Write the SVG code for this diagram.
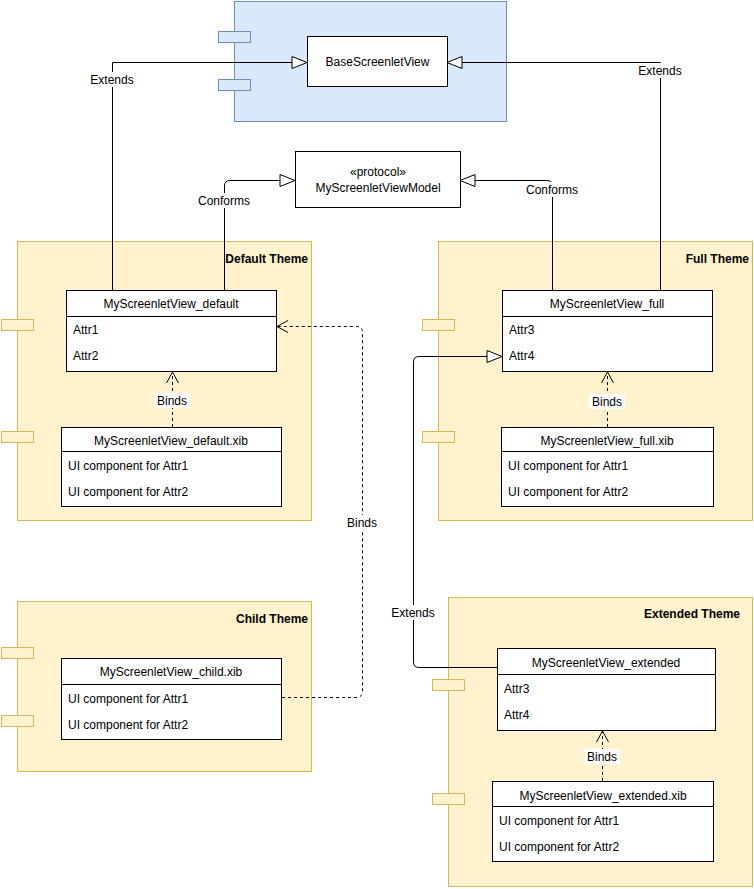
<svg xmlns="http://www.w3.org/2000/svg" width="754" height="889" viewBox="0 0 754 889">
<style>
text{font-family:"Liberation Sans",Arial,sans-serif;font-size:12px;fill:#000}
.c{text-anchor:middle}
.t{font-weight:bold;text-anchor:end}
.y{fill:#fff2cc;stroke:#d6b656}
.b{fill:#dae8fc;stroke:#6c8ebf}
.w{fill:#fff;stroke:#000}
.l{fill:none;stroke:#000}
.d{fill:none;stroke:#000;stroke-dasharray:3 3}
.lb{fill:#fff}
</style>
<defs>
<marker id="tri" markerWidth="18" markerHeight="14" refX="16" refY="7" orient="auto" markerUnits="userSpaceOnUse"><path d="M1,1 L16,7 L1,13 Z" fill="#fff" stroke="#000"/></marker>
<marker id="op" markerWidth="14" markerHeight="14" refX="12" refY="7" orient="auto" markerUnits="userSpaceOnUse"><path d="M1,1 L12,7 L1,13" fill="none" stroke="#000"/></marker>
</defs>
<g id="base"><rect class="b" x="234.5" y="1.5" width="272" height="120"/><rect class="b" x="218.5" y="31.5" width="32" height="11"/><rect class="b" x="218.5" y="79.5" width="32" height="11"/>
<rect class="w" x="307.5" y="36.5" width="140" height="50"/><text class="c" x="377.5" y="66">BaseScreenletView</text></g>
<g id="protocol"><rect class="w" x="295.5" y="151.5" width="165" height="56"/><text class="c" x="378" y="176">«protocol»</text><text class="c" x="378" y="192">MyScreenletViewModel</text></g>
<g id="default"><rect class="y" x="17.5" y="241.5" width="294" height="279"/><rect class="y" x="1.5" y="319.5" width="32" height="11"/><rect class="y" x="1.5" y="431.5" width="32" height="11"/><text class="t" x="308" y="263">Default Theme</text>
<rect class="w" x="66.5" y="290.5" width="210" height="81"/><line class="l" x1="66.5" y1="316.5" x2="276.5" y2="316.5"/><text class="c" x="171" y="308">MyScreenletView_default</text><text x="73" y="334" font-size="11">Attr1</text><text x="73" y="360" font-size="11">Attr2</text>
<rect class="w" x="61.5" y="427.5" width="220" height="79"/><line class="l" x1="61.5" y1="451.5" x2="281.5" y2="451.5"/><text class="c" x="171" y="445">MyScreenletView_default.xib</text><text x="68" y="470" font-size="11">UI component for Attr1</text><text x="68" y="496" font-size="11">UI component for Attr2</text></g>
<g id="full"><rect class="y" x="438.5" y="241.5" width="314" height="279"/><rect class="y" x="422.5" y="319.5" width="32" height="11"/><rect class="y" x="422.5" y="431.5" width="32" height="11"/><text class="t" x="749" y="263">Full Theme</text>
<rect class="w" x="502.5" y="290.5" width="210" height="81"/><line class="l" x1="502.5" y1="316.5" x2="712.5" y2="316.5"/><text class="c" x="607" y="308">MyScreenletView_full</text><text x="509" y="334" font-size="11">Attr3</text><text x="509" y="360" font-size="11">Attr4</text>
<rect class="w" x="501.5" y="427.5" width="212" height="79"/><line class="l" x1="501.5" y1="451.5" x2="713.5" y2="451.5"/><text class="c" x="607" y="445">MyScreenletView_full.xib</text><text x="508" y="470" font-size="11">UI component for Attr1</text><text x="508" y="496" font-size="11">UI component for Attr2</text></g>
<g id="child"><rect class="y" x="17.5" y="601.5" width="294" height="170"/><rect class="y" x="1.5" y="647.5" width="32" height="11"/><rect class="y" x="1.5" y="715.5" width="32" height="11"/><text class="t" x="308" y="623">Child Theme</text>
<rect class="w" x="61.5" y="658.5" width="220" height="81"/><line class="l" x1="61.5" y1="684.5" x2="281.5" y2="684.5"/><text class="c" x="171" y="676">MyScreenletView_child.xib</text><text x="68" y="703" font-size="11">UI component for Attr1</text><text x="68" y="729" font-size="11">UI component for Attr2</text></g>
<g id="extended"><rect class="y" x="448.5" y="597.5" width="304" height="289"/><rect class="y" x="432.5" y="679.5" width="32" height="11"/><rect class="y" x="432.5" y="793.5" width="32" height="11"/><text class="t" x="740" y="618">Extended Theme</text>
<rect class="w" x="497.5" y="648.5" width="218" height="82"/><line class="l" x1="497.5" y1="674.5" x2="715.5" y2="674.5"/><text class="c" x="606" y="667">MyScreenletView_extended</text><text x="504" y="693" font-size="11">Attr3</text><text x="504" y="719" font-size="11">Attr4</text>
<rect class="w" x="492.5" y="781.5" width="221" height="80"/><line class="l" x1="492.5" y1="806.5" x2="713.5" y2="806.5"/><text class="c" x="603" y="800">MyScreenletView_extended.xib</text><text x="499" y="825" font-size="11">UI component for Attr1</text><text x="499" y="851" font-size="11">UI component for Attr2</text></g>
<g id="connectors">
<path class="l" d="M112.5,290 V62.5 H307" marker-end="url(#tri)"/>
<path class="l" d="M660.5,290 V62.5 H447" marker-end="url(#tri)"/>
<path class="l" d="M224.5,290 V186 Q224.5,180.5 230,180.5 H295" marker-end="url(#tri)"/>
<path class="l" d="M552.5,290 V186 Q552.5,180.5 547,180.5 H460" marker-end="url(#tri)"/>
<path class="d" d="M172.5,427 V372" marker-end="url(#op)"/>
<path class="d" d="M607.5,427 V372" marker-end="url(#op)"/>
<path class="d" d="M602.5,781 V731" marker-end="url(#op)"/>
<path class="d" d="M282,697.5 H356 Q362.5,697.5 362.5,691 V332 Q362.5,326.5 356,326.5 H277" marker-end="url(#op)"/>
<path class="l" d="M497,667.5 H419 Q413.5,667.5 413.5,662 V362 Q413.5,356.5 419,356.5 H502" marker-end="url(#tri)"/>
<rect class="lb" x="87" y="72" width="52" height="15"/><text class="c" x="112" y="84">Extends</text>
<rect class="lb" x="635" y="63" width="52" height="15"/><text class="c" x="660" y="75">Extends</text>
<rect class="lb" x="193" y="193" width="62" height="15"/><text class="c" x="224" y="205">Conforms</text>
<rect class="lb" x="521" y="182" width="62" height="15"/><text class="c" x="552" y="194">Conforms</text>
<rect class="lb" x="154" y="393" width="36" height="15"/><text class="c" x="172" y="405">Binds</text>
<rect class="lb" x="589" y="394" width="36" height="15"/><text class="c" x="607" y="406">Binds</text>
<rect class="lb" x="584" y="749" width="36" height="15"/><text class="c" x="602" y="761">Binds</text>
<rect class="lb" x="344" y="515" width="36" height="15"/><text class="c" x="362" y="527">Binds</text>
<rect class="lb" x="387" y="605" width="52" height="15"/><text class="c" x="413" y="617">Extends</text>
</g>
</svg>
